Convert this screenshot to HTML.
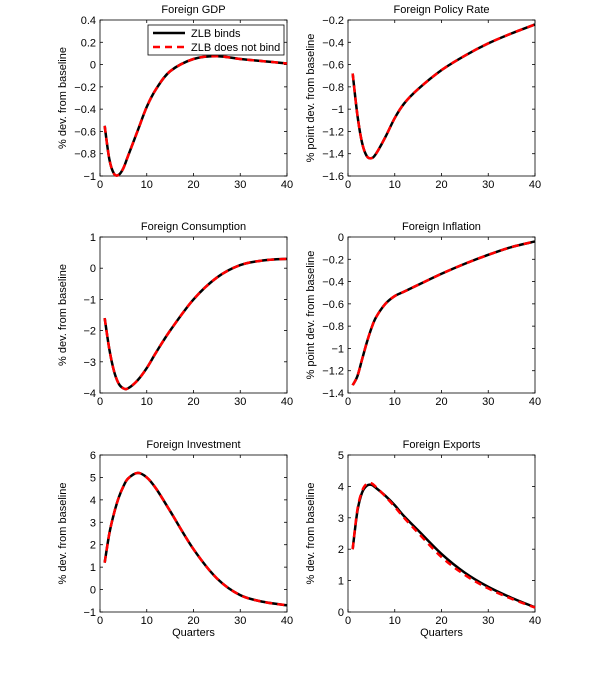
<!DOCTYPE html>
<html><head><meta charset="utf-8"><style>
html,body{margin:0;padding:0;background:#fff;}
svg{display:block;font-family:"Liberation Sans",Arial,sans-serif;}
</style></head><body>
<svg id="fig" width="600" height="676" viewBox="0 0 600 676"></svg>
<script>
const quarters=[1,2,3,4,5,6,8,10,12,15,20,25,30,35,40];
const xTicks=[0,10,20,30,40];
const gdpBind=[-0.55,-0.85,-0.98,-0.99,-0.93,-0.82,-0.6,-0.38,-0.22,-0.06,0.05,0.075,0.05,0.03,0.01];
const gdpNo=[-0.55,-0.85,-0.98,-0.99,-0.93,-0.82,-0.6,-0.38,-0.22,-0.06,0.05,0.075,0.05,0.03,0.01];
const rateBind=[-0.68,-1.05,-1.3,-1.42,-1.44,-1.40,-1.25,-1.08,-0.95,-0.82,-0.65,-0.52,-0.41,-0.32,-0.24];
const rateNo=[-0.68,-1.05,-1.3,-1.42,-1.44,-1.40,-1.25,-1.08,-0.95,-0.82,-0.65,-0.52,-0.41,-0.32,-0.24];
const consBind=[-1.6,-2.6,-3.3,-3.7,-3.85,-3.85,-3.6,-3.2,-2.7,-2.0,-1.0,-0.3,0.1,0.25,0.3];
const consNo=[-1.6,-2.6,-3.3,-3.7,-3.85,-3.85,-3.6,-3.2,-2.7,-2.0,-1.0,-0.3,0.1,0.25,0.3];
const inflBind=[-1.33,-1.25,-1.1,-0.95,-0.82,-0.72,-0.6,-0.53,-0.49,-0.43,-0.33,-0.24,-0.16,-0.09,-0.04];
const inflNo=[-1.33,-1.25,-1.1,-0.95,-0.82,-0.72,-0.6,-0.53,-0.49,-0.43,-0.33,-0.24,-0.16,-0.09,-0.04];
const invBind=[1.2,2.5,3.4,4.1,4.6,4.95,5.2,5.0,4.5,3.5,1.8,0.5,-0.25,-0.55,-0.7];
const invNo=[1.2,2.5,3.4,4.1,4.6,4.95,5.2,5.0,4.5,3.5,1.8,0.5,-0.25,-0.55,-0.7];
const expBind=[2.0,3.2,3.8,4.02,4.05,3.95,3.7,3.4,3.05,2.6,1.85,1.25,0.8,0.45,0.15];
const expNo=[2.0,3.25,3.85,4.08,4.1,3.98,3.68,3.35,3.0,2.52,1.75,1.18,0.75,0.42,0.14];
const gdpTicks=[-1,-0.8,-0.6,-0.4,-0.2,0,0.2,0.4];
const rateTicks=[-1.6,-1.4,-1.2,-1,-0.8,-0.6,-0.4,-0.2];
const consTicks=[-4,-3,-2,-1,0,1];
const inflTicks=[-1.4,-1.2,-1,-0.8,-0.6,-0.4,-0.2,0];
const invTicks=[-1,0,1,2,3,4,5,6];
const expTicks=[0,1,2,3,4,5];

const NS="http://www.w3.org/2000/svg";
const svg=document.getElementById('fig');
function mk(tag,attrs,parent,text){const e=document.createElementNS(NS,tag);for(const k in attrs)e.setAttribute(k,attrs[k]);if(text!==undefined)e.textContent=text;(parent||svg).appendChild(e);return e;}
function fmt(v){let s=(Math.round(v*10)/10).toString();return s.replace('-','\u2212');}
function smooth(pts){let d='M'+pts[0][0]+','+pts[0][1];for(let i=0;i<pts.length-1;i++){const p0=pts[Math.max(0,i-1)],p1=pts[i],p2=pts[i+1],p3=pts[Math.min(pts.length-1,i+2)];const c1=[p1[0]+(p2[0]-p0[0])/6,p1[1]+(p2[1]-p0[1])/6],c2=[p2[0]-(p3[0]-p1[0])/6,p2[1]-(p3[1]-p1[1])/6];d+=' C'+c1[0]+','+c1[1]+' '+c2[0]+','+c2[1]+' '+p2[0]+','+p2[1];}return d;}
function panel(name,title,ylabel,L,T,R,B,ticks,bind,nobind,showX){
  const g=mk('g',{});
  
  
  const ymin=ticks[0],ymax=ticks[ticks.length-1];
  const xs=v=>L+(v-0)/40*(R-L);
  const ys=v=>B-(v-ymin)/(ymax-ymin)*(B-T);
  const t=mk('text',{x:(L+R)/2,y:T-7,'text-anchor':'middle','font-size':11},g,title);
  
  
  mk('rect',{x:L,y:T,width:R-L,height:B-T,fill:'none',stroke:'#000','stroke-width':0.8},g);
  xTicks.forEach(v=>{const x=xs(v);mk('line',{x1:x,x2:x,y1:B,y2:B-3,stroke:'#000','stroke-width':0.8},g);mk('line',{x1:x,x2:x,y1:T,y2:T+3,stroke:'#000','stroke-width':0.8},g);
    const tl=mk('text',{x:x,y:B+12,'text-anchor':'middle','font-size':11},g,String(v));
    
    });
  ticks.forEach(v=>{const y=ys(v);mk('line',{x1:L,x2:L+3,y1:y,y2:y,stroke:'#000','stroke-width':0.8},g);mk('line',{x1:R,x2:R-3,y1:y,y2:y,stroke:'#000','stroke-width':0.8},g);
    const tl=mk('text',{x:L-4,y:y+4,'text-anchor':'end','font-size':11},g,fmt(v));
    
    });
  const yl=mk('text',{x:0,y:0,transform:'translate('+(L-34)+','+((T+B)/2)+') rotate(-90)','text-anchor':'middle','font-size':11},g,ylabel);
  
  
  if(showX){const xl=mk('text',{x:(L+R)/2,y:B+24,'text-anchor':'middle','font-size':11},g,'Quarters');
    
    }
  const p1=mk('path',{d:smooth(quarters.map((q,i)=>[xs(q),ys(bind[i])])),fill:'none',stroke:'#000','stroke-width':2.5},g);
  
  
  const p2=mk('path',{d:smooth(quarters.map((q,i)=>[xs(q),ys(nobind[i])])),fill:'none',stroke:'#ff0000','stroke-width':2.5,'stroke-dasharray':'7,5'},g);
  
  
  return g;
}
const LL=100,LR=287,RL=348,RR=535;
panel('panel-foreign-gdp','Foreign GDP','% dev. from baseline',LL,20,LR,176,gdpTicks,gdpBind,gdpNo,false);
panel('panel-foreign-policy-rate','Foreign Policy Rate','% point dev. from baseline',RL,20,RR,176,rateTicks,rateBind,rateNo,false);
panel('panel-foreign-consumption','Foreign Consumption','% dev. from baseline',LL,237,LR,393,consTicks,consBind,consNo,false);
panel('panel-foreign-inflation','Foreign Inflation','% point dev. from baseline',RL,237,RR,393,inflTicks,inflBind,inflNo,false);
panel('panel-foreign-investment','Foreign Investment','% dev. from baseline',LL,455,LR,612,invTicks,invBind,invNo,true);
panel('panel-foreign-exports','Foreign Exports','% dev. from baseline',RL,455,RR,612,expTicks,expBind,expNo,true);
const lg=mk('g',{});


mk('rect',{x:148,y:25,width:136,height:30,fill:'#fff',stroke:'#000','stroke-width':0.8},lg);
mk('line',{x1:153,x2:185,y1:33,y2:33,stroke:'#000','stroke-width':2.5},lg);
const le1=mk('text',{x:191,y:37,'font-size':11},lg,'ZLB binds');


mk('line',{x1:153,x2:185,y1:47,y2:47,stroke:'#ff0000','stroke-width':2.5,'stroke-dasharray':'7,5'},lg);
const le2=mk('text',{x:191,y:51,'font-size':11},lg,'ZLB does not bind');


</script>
</body></html>
